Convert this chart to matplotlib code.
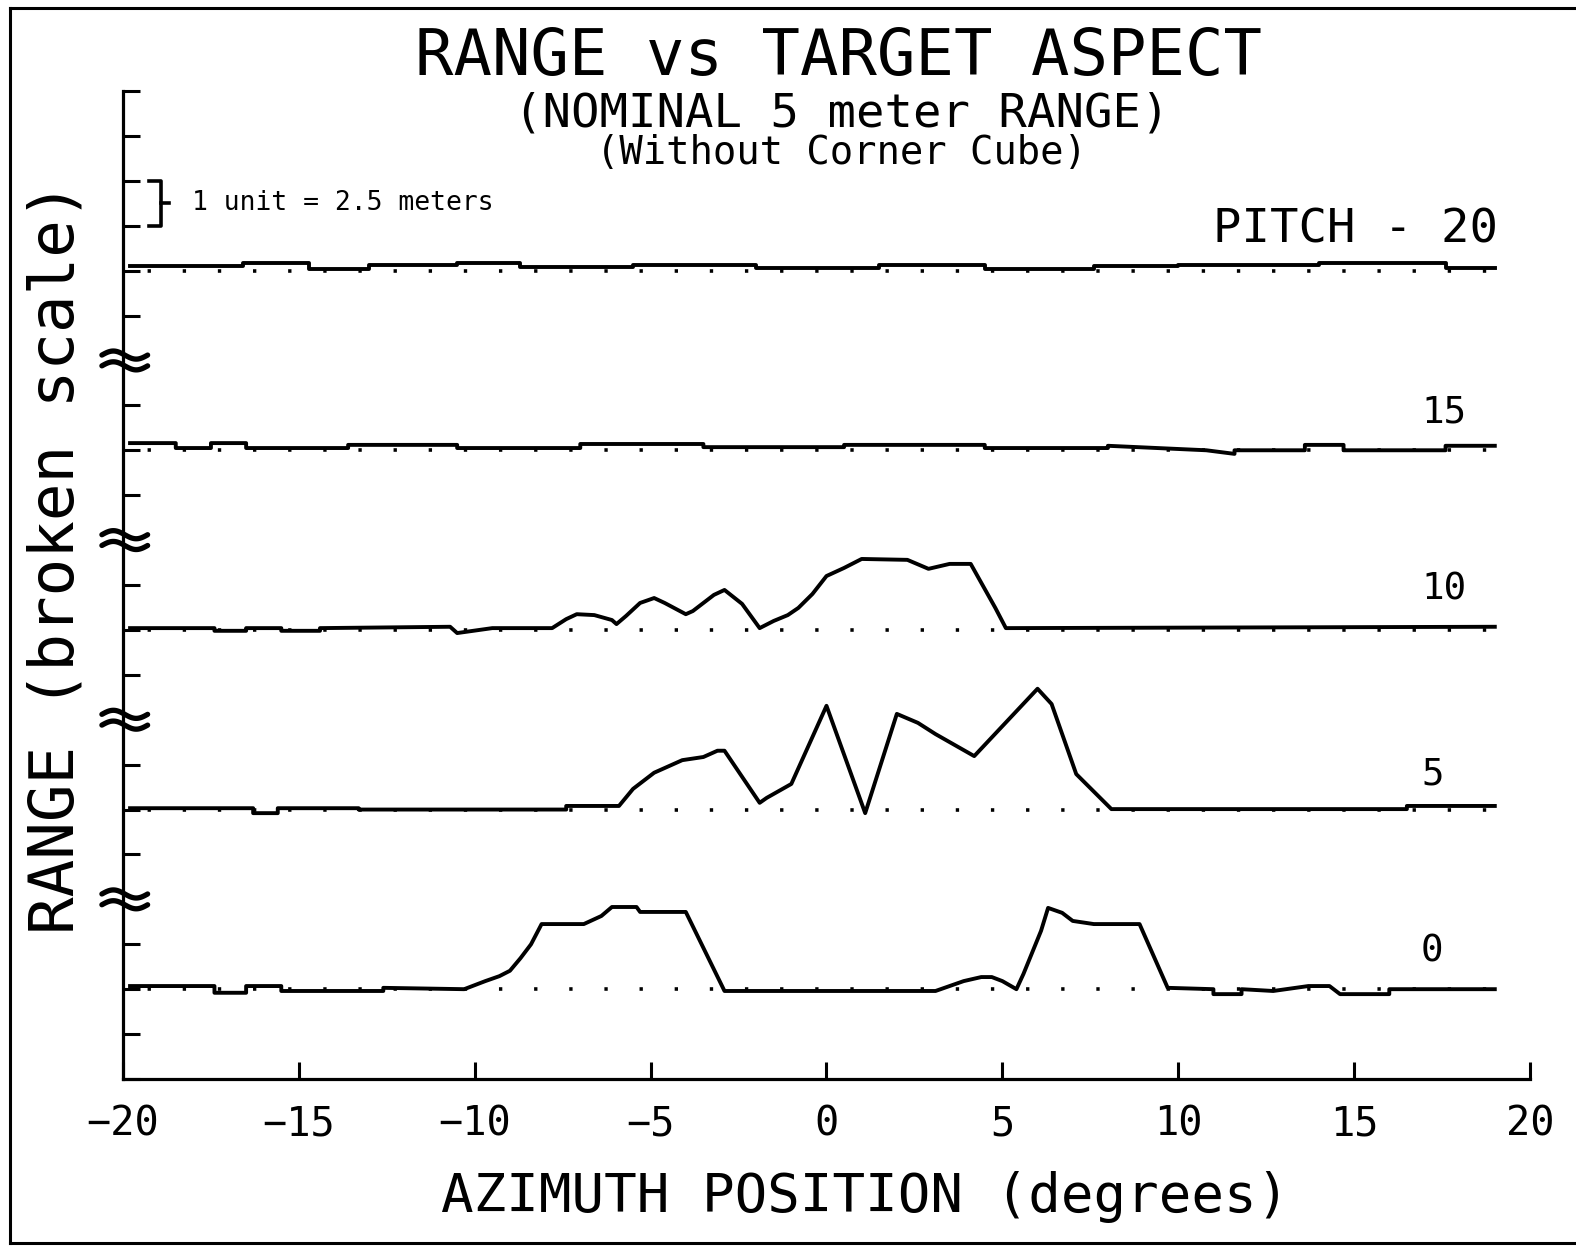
import numpy as np
import matplotlib
matplotlib.use('Agg')
import matplotlib.pyplot as plt

plt.rcParams['font.family'] = ['DejaVu Sans Mono', 'DejaVu Sans']
plt.rcParams['lines.scale_dashes'] = False

# azimuth (deg) and range (axis units, 1 unit = 2.5 m)
x_p0 = [-19.8, -17.4, -17.4, -16.5, -16.5, -15.5, -15.5, -12.6, -12.6, -10.3,
        -9.7, -9.3, -9.0, -8.7, -8.4, -8.1, -6.9, -6.4, -6.1, -5.4,
        -5.3, -4.0, -2.9, 2.1, 3.1, 3.5, 3.9, 4.4, 4.7, 5.0,
        5.4, 5.6, 6.1, 6.3, 6.7, 7.0, 7.6, 8.9, 9.7, 11.0,
        11.0, 11.8, 11.8, 12.7, 13.7, 14.3, 14.6, 16.0, 16.0, 19.0]
y_p0 = [2.07, 2.07, 1.92, 1.92, 2.07, 2.07, 1.96, 1.96, 2.03, 2.00,
        2.18, 2.29, 2.41, 2.69, 3.00, 3.45, 3.45, 3.63, 3.83, 3.83,
        3.72, 3.72, 1.96, 1.96, 1.96, 2.07, 2.18, 2.27, 2.27, 2.18,
        2.00, 2.34, 3.30, 3.81, 3.70, 3.52, 3.45, 3.45, 2.03, 2.00,
        1.89, 1.89, 2.00, 1.96, 2.07, 2.07, 1.89, 1.89, 2.00, 2.00]

x_p5 = [-19.8, -16.3, -16.3, -15.6, -15.6, -13.3, -13.3, -7.4, -7.4, -5.9,
        -5.5, -4.9, -4.1, -3.5, -3.1, -2.9, -1.9, -1.7, -1.0, 0.0,
        1.1, 1.3, 2.0, 2.6, 3.1, 4.2, 6.0, 6.4, 7.1, 8.1,
        16.5, 16.5, 19.0]
y_p5 = [6.03, 6.03, 5.92, 5.92, 6.03, 6.03, 6.00, 6.00, 6.08, 6.08,
        6.46, 6.82, 7.10, 7.17, 7.31, 7.31, 6.15, 6.26, 6.57, 8.31,
        5.92, 6.41, 8.13, 7.93, 7.68, 7.19, 8.69, 8.35, 6.79, 6.01,
        6.01, 6.08, 6.08]

x_p10 = [-19.8, -17.4, -17.4, -16.5, -16.5, -15.5, -15.5, -14.4, -14.4, -10.7,
         -10.5, -9.5, -7.8, -7.4, -7.1, -6.6, -6.1, -5.97, -5.7, -5.3,
         -4.9, -4.6, -4.0, -3.8, -3.5, -3.2, -2.9, -2.4, -1.9, -1.5,
         -1.1, -0.8, -0.4, 0.0, 0.5, 1.0, 2.3, 2.9, 3.5, 4.1,
         4.5, 4.8, 5.1, 19.0]
y_p10 = [10.04, 10.04, 9.98, 9.98, 10.04, 10.04, 9.98, 9.98, 10.04, 10.07,
         9.93, 10.04, 10.04, 10.24, 10.35, 10.33, 10.22, 10.13, 10.31, 10.60,
         10.71, 10.60, 10.35, 10.42, 10.60, 10.78, 10.89, 10.58, 10.04, 10.20,
         10.33, 10.49, 10.80, 11.20, 11.38, 11.58, 11.56, 11.36, 11.47, 11.47,
         10.91, 10.49, 10.04, 10.07]

x_p15 = [-19.8, -18.5, -18.5, -17.5, -17.5, -16.5, -16.5, -13.6, -13.6, -10.5,
         -10.5, -7.0, -7.0, -3.5, -3.5, 0.5, 0.5, 4.5, 4.5, 8.0,
         8.0, 10.8, 11.6, 11.6, 13.6, 13.6, 14.7, 14.7, 17.6, 17.6,
         19.0]
y_p15 = [14.16, 14.16, 14.05, 14.05, 14.16, 14.16, 14.05, 14.05, 14.12, 14.12,
         14.05, 14.05, 14.14, 14.14, 14.07, 14.07, 14.12, 14.12, 14.05, 14.05,
         14.10, 14.00, 13.92, 14.00, 14.00, 14.12, 14.12, 14.00, 14.00, 14.10,
         14.10]

x_p20 = [-19.8, -16.6, -16.6, -14.7, -14.7, -13.0, -13.0, -10.5, -10.5, -8.7,
         -8.7, -5.5, -5.5, -2.0, -2.0, 1.5, 1.5, 4.5, 4.5, 7.6,
         7.6, 10.0, 10.0, 14.0, 14.0, 17.6, 17.6, 19.0]
y_p20 = [18.11, 18.11, 18.17, 18.17, 18.04, 18.04, 18.13, 18.13, 18.17, 18.17,
         18.08, 18.08, 18.13, 18.13, 18.06, 18.06, 18.13, 18.13, 18.04, 18.04,
         18.11, 18.11, 18.13, 18.13, 18.17, 18.17, 18.06, 18.06]

series = [(x_p0, y_p0), (x_p5, y_p5), (x_p10, y_p10), (x_p15, y_p15), (x_p20, y_p20)]
pitch_labels = ["0", "5", "10", "15"]
baselines = [2, 6, 10, 14, 18]
breaks = [4, 8, 12, 16]
xticks = [-20, -15, -10, -5, 0, 5, 10, 15, 20]
yticks = [t for t in range(0, 23) if t not in breaks]

fig = plt.figure(figsize=(15.76, 12.47), dpi=100)
ax = fig.add_axes([0.07805, 0.13472, 0.89275, 0.7923])
ax.set_xlim(-20, 20)
ax.set_ylim(0, 22)

# dotted nominal lines under each trace
for b in baselines:
    ax.plot([-20, 19], [b, b], color="black", lw=2.6,
            linestyle=(7.6, (2.4, 22.9)), dash_capstyle="butt")

for xs, ys in series:
    ax.plot(xs, ys, color="black", lw=2.8, solid_joinstyle="round")

# broken-scale marks on the y axis
t = np.linspace(0, 1, 40)
for b in breaks:
    for off in (0.12, -0.12):
        ax.plot(-20.6 + 1.3 * t, b + off + 0.09 * np.sin(2 * np.pi * t),
                color="black", lw=3.8, clip_on=False, solid_capstyle="round")

# unit bracket
ax.plot([-19.25, -18.92, -18.92, -19.25], [20.0, 20.0, 19.0, 19.0],
        color="black", lw=2.6, clip_on=False)
ax.plot([-18.92, -18.7], [19.5, 19.5], color="black", lw=2.6)
ax.text(-18.05, 19.5, "1 unit = 2.5 meters", fontsize=19, va="center", ha="left")

ax.text(19.1, 18.9, "PITCH - 20", fontsize=34, ha="right", va="center")
label_y = [2.83, 6.77, 10.9, 14.85]
for lab, ly in zip(pitch_labels, label_y):
    ax.text(16.9, ly, lab, fontsize=27, ha="left", va="center")

ax.set_xticks(xticks)
ax.set_xticklabels([str(v).replace("-", "\u2212") for v in xticks], fontsize=29)
ax.set_yticks(yticks)
ax.set_yticklabels([])
ax.tick_params(axis="both", direction="in", length=12, width=2.2, color="black")
ax.tick_params(axis="x", pad=18)

ax.spines["top"].set_visible(False)
ax.spines["right"].set_visible(False)
ax.spines["left"].set_linewidth(2.3)
ax.spines["bottom"].set_linewidth(2.3)

fig.text(0.532, 0.954, "RANGE vs TARGET ASPECT", fontsize=46, ha="center", va="center")
fig.text(0.534, 0.9086, "(NOMINAL 5 meter RANGE)", fontsize=34, ha="center", va="center")
fig.text(0.534, 0.877, "(Without Corner Cube)", fontsize=28, ha="center", va="center")
fig.text(0.549, 0.040, "AZIMUTH POSITION (degrees)", fontsize=39, ha="center", va="center")
fig.text(0.036, 0.553, "RANGE (broken scale)", fontsize=45, rotation=90,
         ha="center", va="center")

# page frame
fig.add_artist(plt.Line2D([0.0063, 0.0063], [0.0032, 0.9936], color="black", lw=2.2))
fig.add_artist(plt.Line2D([0.0063, 1.0], [0.9936, 0.9936], color="black", lw=2.2))
fig.add_artist(plt.Line2D([0.0063, 1.0], [0.0032, 0.0032], color="black", lw=2.2))

fig.patch.set_facecolor("white")
fig.savefig("out.png", dpi=100, facecolor="white")
plt.close(fig)
